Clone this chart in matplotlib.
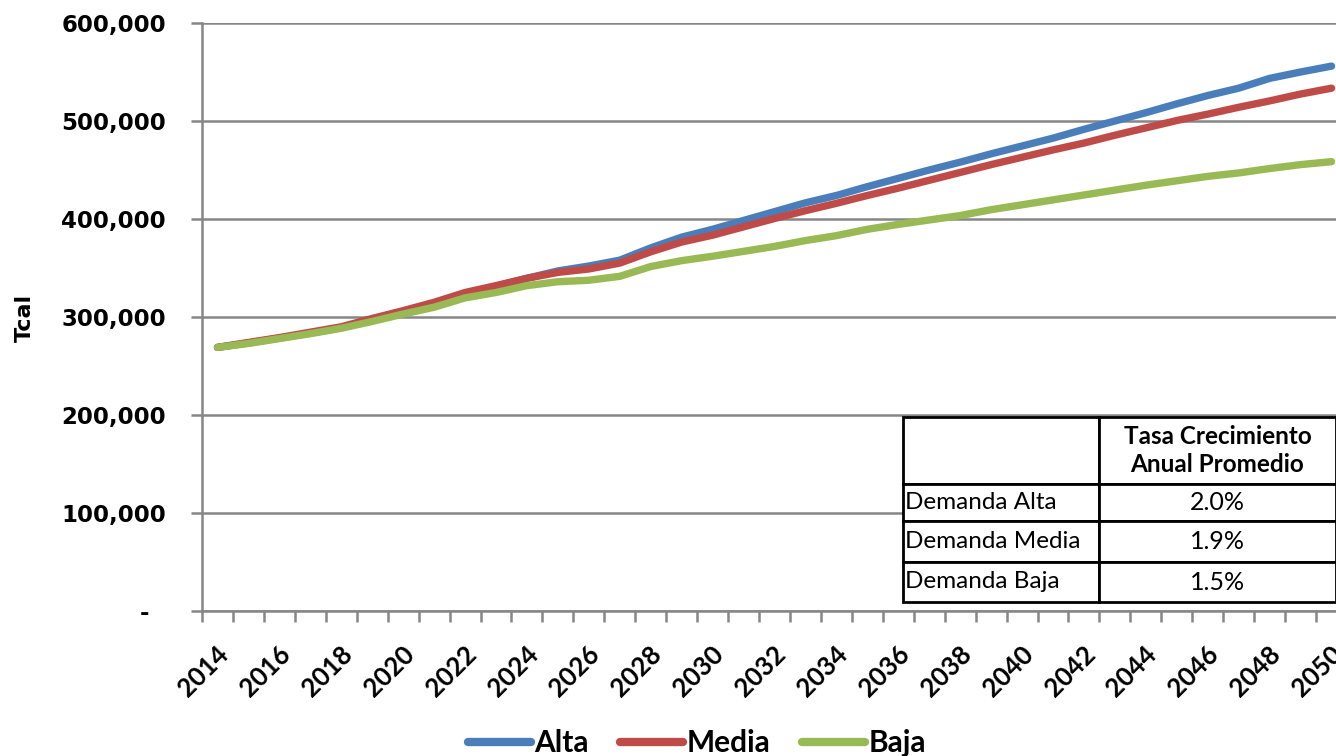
import matplotlib
matplotlib.use("Agg")
import matplotlib.pyplot as plt
from matplotlib.ticker import FuncFormatter, FixedLocator
from matplotlib.transforms import ScaledTranslation

# Demand projection (Tcal) per scenario
years = list(range(2014, 2051))
alta = [269000, 273500, 278500, 283500, 289000, 296500, 305500, 314000, 323500, 331500,
        339500, 347000, 352000, 358000, 370500, 381500, 389500, 398500, 407500, 416500,
        424000, 433000, 441500, 450000, 458000, 466500, 474500, 482500, 491500, 500000,
        508500, 517500, 526000, 533500, 543500, 550000, 556000]
media = [269000, 274000, 279000, 284500, 290000, 298500, 306500, 315000, 325000, 332000,
         339500, 345500, 349000, 355000, 366500, 376500, 383500, 392000, 400500, 408500,
         416000, 424000, 431500, 439500, 447500, 455500, 463000, 470500, 477500, 485500,
         493000, 500500, 507000, 514000, 520500, 527500, 533500]
baja = [269000, 273000, 278000, 283000, 288500, 295500, 303000, 310000, 319500, 325000,
        332000, 336000, 337500, 341500, 351500, 357500, 362000, 367000, 372000, 378000,
        383000, 389500, 394500, 399000, 403500, 409500, 414500, 419500, 424500, 429500,
        434500, 439000, 443500, 447000, 451500, 455500, 458500]

series_names = ["Alta", "Media", "Baja"]
series_colors = ["#4A7EBB", "#BE4B48", "#98B954"]

y_ticks = [0, 100000, 200000, 300000, 400000, 500000, 600000]
y_label = "Tcal"

table_header = "Tasa Crecimiento\nAnual Promedio"
table_rows = ["Demanda Alta", "Demanda Media", "Demanda Baja"]
table_rates = ["2.0%", "1.9%", "1.5%"]

GRID = "#868686"
W, H = 1336, 756

fig = plt.figure(figsize=(W / 100, H / 100), dpi=100)
fig.patch.set_facecolor("white")
ax = fig.add_axes([202 / W, 145 / H, 1145 / W, 588 / H])

xpos = list(range(len(years)))
for vals, name, color in zip([alta, media, baja], series_names, series_colors):
    ax.plot(xpos, vals, color=color, lw=5.3, label=name,
            solid_capstyle="round", solid_joinstyle="round", zorder=3)

# y axis
ax.set_ylim(y_ticks[0], y_ticks[-1])
ax.yaxis.set_major_locator(FixedLocator(y_ticks))
ax.yaxis.set_major_formatter(FuncFormatter(lambda v, p: "-  " if v == 0 else f"{int(v):,}"))
ax.grid(axis="y", color=GRID, lw=1.8, zorder=1)
ax.set_axisbelow(True)
ax.tick_params(axis="y", length=8, width=1.8, color=GRID, pad=18,
               labelsize=16.5)
for lab in ax.get_yticklabels():
    lab.set_fontfamily("DejaVu Sans")
    lab.set_fontweight("bold")

# x axis: categories with tick marks between them
ax.set_xlim(-0.5, len(years) - 0.5)
ax.xaxis.set_major_locator(FixedLocator(xpos[::2]))
ax.set_xticklabels([str(y) for y in years[::2]], rotation=45, ha="right",
                   va="center", rotation_mode="anchor",
                   fontfamily="Lato", fontweight="bold", fontsize=18.5)
ax.xaxis.set_minor_locator(FixedLocator([p - 0.5 for p in range(len(years) + 1)]))
ax.tick_params(axis="x", which="major", length=0, pad=28)
ax.tick_params(axis="x", which="minor", length=8, width=1.8, color=GRID)
shift = ScaledTranslation(0.07, 0, fig.dpi_scale_trans)
for lab in ax.get_xticklabels():
    lab.set_transform(lab.get_transform() + shift)

for side in ["top", "right"]:
    ax.spines[side].set_visible(False)
for side in ["left", "bottom"]:
    ax.spines[side].set_color(GRID)
    ax.spines[side].set_linewidth(1.8)

fig.text(25 / W, 1 - 318 / H, y_label, rotation=90, ha="center", va="center",
         fontfamily="DejaVu Sans", fontweight="bold", fontsize=16)

# growth-rate table
cell_text = [[r, v] for r, v in zip(table_rows, table_rates)]
x0 = (903 - 202) / 1145
x1 = (1336 - 202) / 1145
y0 = (611 - 602) / 588
y1 = (611 - 417) / 588
tbl = ax.table(cellText=cell_text, colLabels=["", table_header],
               cellLoc="center", bbox=[x0, y0, x1 - x0, y1 - y0], zorder=6)
tbl.auto_set_font_size(False)
row_h = [67, 37, 41, 40]
col_w = [196, 237]
for (r, c), cell in tbl.get_celld().items():
    cell.set_height(row_h[r])
    cell.set_width(col_w[c])
    cell.set_edgecolor("black")
    cell.set_linewidth(2)
    cell.set_facecolor("white")
    txt = cell.get_text()
    txt.set_fontfamily("Lato")
    if r == 0:
        txt.set_fontsize(17.5)
        txt.set_fontweight("bold")
        txt.set_linespacing(1.25)
    elif c == 0:
        txt.set_fontsize(17.5)
        cell.set_text_props(ha="left")
        cell._loc = "left"
        cell.PAD = 0.012
    else:
        txt.set_fontsize(18)

leg = fig.legend(loc="center", bbox_to_anchor=(697 / W, 13 / H), ncol=3,
                 frameon=False, handlelength=2.1, handletextpad=0.12,
                 columnspacing=1.05, prop={"family": "Lato", "weight": "bold", "size": 21.5})
for line in leg.get_lines():
    line.set_linewidth(6)
    line.set_solid_capstyle("round")

fig.savefig("out.png", dpi=100, facecolor="white")
